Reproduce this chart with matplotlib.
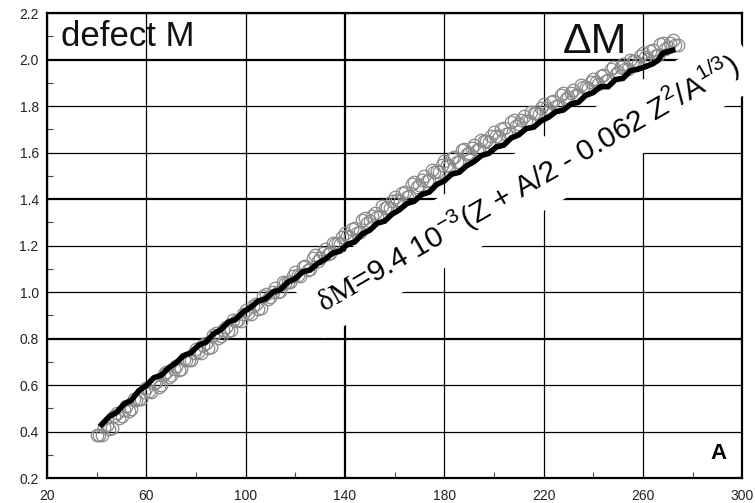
import numpy as np
import matplotlib
matplotlib.use("Agg")
import matplotlib.pyplot as plt

plt.rcParams['font.family'] = ['Liberation Sans', 'DejaVu Sans']
plt.rcParams['mathtext.fontset'] = 'custom'
plt.rcParams['mathtext.rm'] = 'Liberation Serif'
plt.rcParams['mathtext.sf'] = 'Liberation Sans'

# open circles (grey), even A
circ_A = list(range(40, 276, 2))
circ_dM = [0.385, 0.383, 0.428, 0.415, 0.478, 0.467, 0.508, 0.495, 0.536, 0.539,
           0.588, 0.571, 0.613, 0.598, 0.658, 0.645, 0.683, 0.668, 0.706, 0.707,
           0.753, 0.736, 0.779, 0.764, 0.825, 0.812, 0.851, 0.836, 0.875, 0.876,
           0.923, 0.906, 0.948, 0.933, 0.993, 0.980, 1.018, 1.003, 1.041, 1.042,
           1.088, 1.071, 1.113, 1.098, 1.158, 1.145, 1.183, 1.168, 1.206, 1.207,
           1.253, 1.235, 1.276, 1.260, 1.319, 1.305, 1.342, 1.326, 1.363, 1.363,
           1.408, 1.390, 1.431, 1.415, 1.474, 1.460, 1.497, 1.481, 1.518, 1.518,
           1.563, 1.542, 1.580, 1.561, 1.617, 1.600, 1.634, 1.615, 1.649, 1.646,
           1.688, 1.666, 1.704, 1.684, 1.740, 1.722, 1.756, 1.736, 1.770, 1.766,
           1.808, 1.785, 1.822, 1.801, 1.856, 1.837, 1.870, 1.849, 1.882, 1.877,
           1.918, 1.895, 1.932, 1.911, 1.966, 1.947, 1.980, 1.959, 1.992, 1.987,
           2.028, 2.004, 2.040, 2.018, 2.072, 2.052, 2.084, 2.062]

# open circles (grey), odd A
circ_A2 = list(range(41, 274, 2))
circ_dM2 = [0.386, 0.420, 0.409, 0.467, 0.456, 0.491, 0.490, 0.539, 0.540, 0.570,
            0.575, 0.607, 0.593, 0.648, 0.635, 0.667, 0.664, 0.710, 0.709, 0.736,
            0.740, 0.773, 0.759, 0.815, 0.802, 0.835, 0.832, 0.879, 0.878, 0.906,
            0.910, 0.942, 0.928, 0.983, 0.970, 1.002, 0.999, 1.045, 1.044, 1.071,
            1.075, 1.107, 1.093, 1.148, 1.135, 1.167, 1.164, 1.210, 1.209, 1.236,
            1.239, 1.271, 1.255, 1.310, 1.295, 1.327, 1.322, 1.368, 1.365, 1.392,
            1.394, 1.426, 1.410, 1.465, 1.450, 1.482, 1.477, 1.523, 1.520, 1.547,
            1.548, 1.576, 1.558, 1.609, 1.592, 1.620, 1.613, 1.655, 1.650, 1.673,
            1.672, 1.700, 1.681, 1.732, 1.714, 1.742, 1.734, 1.776, 1.770, 1.793,
            1.792, 1.819, 1.799, 1.849, 1.830, 1.857, 1.848, 1.889, 1.882, 1.904,
            1.902, 1.929, 1.909, 1.959, 1.940, 1.967, 1.958, 1.999, 1.992, 2.014,
            2.011, 2.037, 2.016, 2.065, 2.045, 2.071, 2.061]

# black formula curve
line_A = [42, 45, 48, 51, 54, 57, 60, 63, 66, 69, 72, 75, 78, 81, 84, 87, 90, 93, 96, 99,
          102, 105, 108, 111, 114, 117, 120, 123, 126, 129, 132, 135, 138, 141, 144, 147,
          150, 153, 156, 159, 162, 165, 168, 171, 174, 177, 180, 183, 186, 189, 192, 195,
          198, 201, 204, 207, 210, 213, 216, 219, 222, 225, 228, 231, 234, 237, 240, 243,
          246, 249, 252, 255, 258, 261, 264, 266, 268, 270, 272]
line_dM = [0.430, 0.464, 0.482, 0.518, 0.535, 0.576, 0.598, 0.631, 0.642, 0.674,
           0.696, 0.726, 0.739, 0.771, 0.784, 0.820, 0.838, 0.871, 0.882, 0.914,
           0.934, 0.961, 0.971, 1.000, 1.010, 1.043, 1.058, 1.087, 1.095, 1.123,
           1.141, 1.167, 1.176, 1.205, 1.216, 1.250, 1.266, 1.296, 1.305, 1.335,
           1.354, 1.381, 1.391, 1.420, 1.430, 1.463, 1.478, 1.507, 1.515, 1.543,
           1.561, 1.587, 1.597, 1.624, 1.632, 1.663, 1.676, 1.703, 1.709, 1.736,
           1.752, 1.776, 1.783, 1.809, 1.816, 1.846, 1.858, 1.884, 1.883, 1.914,
           1.919, 1.952, 1.958, 1.969, 1.982, 1.996, 2.027, 2.034, 2.040]

fig = plt.figure(figsize=(7.55, 5.03), dpi=100)
ax = fig.add_axes([0.0623, 0.0497, 0.9207, 0.9243])

ax.plot(circ_A, circ_dM, 'o', ms=9, mfc='none', mec='#8a8a8a', mew=0.9, zorder=3)
ax.plot(circ_A2, circ_dM2, 'o', ms=9, mfc='none', mec='#8a8a8a', mew=0.9, zorder=3)
ax.plot(line_A, line_dM, '-', color='black', lw=4, solid_joinstyle='miter', zorder=4)

ax.set_xlim(20, 300)
ax.set_ylim(0.2, 2.2)
ax.set_xticks(np.arange(20, 301, 40))
ax.set_yticks(np.arange(0.2, 2.21, 0.2))
ax.set_xticks(np.arange(40, 300, 40), minor=True)
ax.set_yticks(np.arange(0.3, 2.2, 0.2), minor=True)
ax.set_yticklabels([f"{v:.1f}" for v in np.arange(0.2, 2.21, 0.2)])
ax.tick_params(which='major', direction='in', length=0, labelsize=10,
               labelcolor='#222222', pad=6)
ax.tick_params(axis='x', which='major', pad=8)
ax.tick_params(which='minor', direction='in', length=4, width=0.8, color='#444444')

ax.set_axisbelow(True)
ax.grid(True, which='major', color='black', lw=0.9)
for gl, v in zip(ax.get_ygridlines(), ax.get_yticks()):
    if round(v, 1) in (0.8, 1.4, 2.0):
        gl.set_linewidth(1.6)
for gl, v in zip(ax.get_xgridlines(), ax.get_xticks()):
    if v == 140:
        gl.set_linewidth(1.6)
for s in ax.spines.values():
    s.set_linewidth(1.6)

ax.text(0.02, 0.93, "defect M", transform=ax.transAxes, fontsize=25, color='#111111')
ax.text(0.742, 0.915, "\u0394M", transform=ax.transAxes, fontsize=31, color='#111111')
ax.text(0.978, 0.04, "A", transform=ax.transAxes, fontsize=16, fontweight='bold',
        ha='right')

formula = (r"$\mathrm{\delta M}$=9.4 10$^{\mathsf{-3}}$(Z + A/2 - 0.062 "
           r"Z$^{\mathsf{2}}$/A$^{\mathsf{1/3}}$)")
ax.text(213.5, 1.468, formula, fontsize=21.5, rotation=30, rotation_mode='anchor',
        ha='center', va='center', zorder=2.7, clip_on=False,
        bbox=dict(boxstyle='square,pad=0.45', fc='white', ec='none'))

fig.savefig("out.png", dpi=100)
